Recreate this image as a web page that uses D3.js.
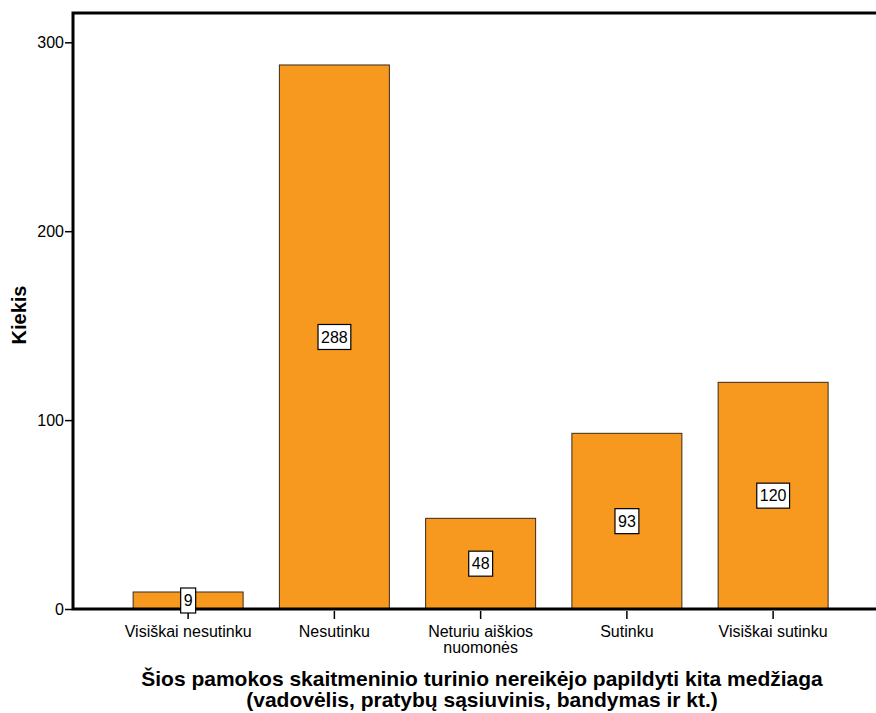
<!DOCTYPE html>
<html>
<head>
<meta charset="utf-8">
<script src="https://cdn.jsdelivr.net/npm/d3@7"></script>
<style>
  body { margin: 0; background: #fff; }
  svg { display: block; font-family: "Liberation Sans", Arial, sans-serif; }
</style>
</head>
<body>
<svg id="chart" width="876" height="713"></svg>
<script>
// data
var categories = ["Visiškai nesutinku", "Nesutinku", "Neturiu aiškios nuomonės", "Sutinku", "Visiškai sutinku"];
var counts = [9, 288, 48, 93, 120];
var yTicks = [0, 100, 200, 300];
var xTitle = ["Šios pamokos skaitmeninio turinio nereikėjo papildyti kita medžiaga", "(vadovėlis, pratybų sąsiuvinis, bandymas ir kt.)"];
var yTitle = "Kiekis";

var barColor = "#F7991E";
var svg = d3.select("#chart");

var plotLeft = 73, plotTop = 13, plotBottom = 609, plotRight = 880;

var y = d3.scaleLinear()
    .domain([0, 300])
    .range([plotBottom, 42.3]);

var x = d3.scaleBand()
    .domain(categories)
    .range([115, 846.25])
    .paddingInner(0.248)
    .paddingOuter(0.124);

// bars
svg.append("g").selectAll("rect")
  .data(counts)
  .enter().append("rect")
    .attr("x", function(d, i) { return x(categories[i]); })
    .attr("y", function(d) { return y(d); })
    .attr("width", x.bandwidth())
    .attr("height", function(d) { return plotBottom - y(d); })
    .attr("fill", barColor)
    .attr("stroke", "#3a2a1a")
    .attr("stroke-width", 1);

// frame
svg.append("path")
    .attr("d", "M" + plotRight + "," + plotTop + "H" + plotLeft + "V" + plotBottom + "H" + plotRight)
    .attr("fill", "none")
    .attr("stroke", "#000")
    .attr("stroke-width", 3);

// y axis
var yAxis = svg.append("g")
    .attr("transform", "translate(" + (plotLeft - 1) + ",0)")
    .call(d3.axisLeft(y).tickValues(yTicks).tickSize(7).tickPadding(1));
yAxis.select(".domain").remove();
yAxis.selectAll("line").attr("stroke", "#000").attr("stroke-width", 1.5);
yAxis.selectAll("text").attr("font-size", 16).attr("fill", "#000")
    .attr("font-family", "Liberation Sans, Arial, sans-serif");

// x axis
var xAxis = svg.append("g")
    .attr("transform", "translate(0," + plotBottom + ")")
    .call(d3.axisBottom(x).tickSize(0).tickFormat(""));
xAxis.select(".domain").remove();
xAxis.selectAll(".tick line").remove();
xAxis.selectAll(".tick").append("line")
    .attr("y1", 2).attr("y2", 10)
    .attr("stroke", "#000").attr("stroke-width", 1.5);

var xLabelLines = {
  "Neturiu aiškios nuomonės": ["Neturiu aiškios", "nuomonės"]
};
xAxis.selectAll(".tick").each(function(d) {
  var lines = xLabelLines[d] || [d];
  var t = d3.select(this).append("text")
      .attr("text-anchor", "middle")
      .attr("font-size", 16)
      .attr("fill", "#000");
  lines.forEach(function(l, j) {
    t.append("tspan").attr("x", 0).attr("y", 28 + j * 16).text(l);
  });
});

// value labels
var labels = svg.append("g").selectAll("g")
  .data(counts)
  .enter().append("g")
    .attr("transform", function(d, i) {
      return "translate(" + (x(categories[i]) + x.bandwidth() / 2) + "," + y(d / 2) + ")";
    });
labels.each(function(d) {
  var g = d3.select(this);
  var txt = g.append("text")
      .attr("text-anchor", "middle")
      .attr("dy", "0.36em")
      .attr("font-size", 16)
      .attr("fill", "#000")
      .text(d);
  var bb = txt.node().getBBox();
  g.insert("rect", "text")
      .attr("x", bb.x - 3)
      .attr("y", -12.5)
      .attr("width", bb.width + 6)
      .attr("height", 25)
      .attr("fill", "#fff")
      .attr("stroke", "#000")
      .attr("stroke-width", 1.2);
});

// axis titles
svg.append("text")
    .attr("transform", "translate(26,315) rotate(-90)")
    .attr("text-anchor", "middle")
    .attr("font-size", 20)
    .attr("font-weight", "bold")
    .text(yTitle);

var xt = svg.append("text")
    .attr("text-anchor", "middle")
    .attr("font-size", 21)
    .attr("font-weight", "bold");
xTitle.forEach(function(l, j) {
  xt.append("tspan").attr("x", 482).attr("y", 686 + j * 21).text(l);
});
</script>
</body>
</html>
